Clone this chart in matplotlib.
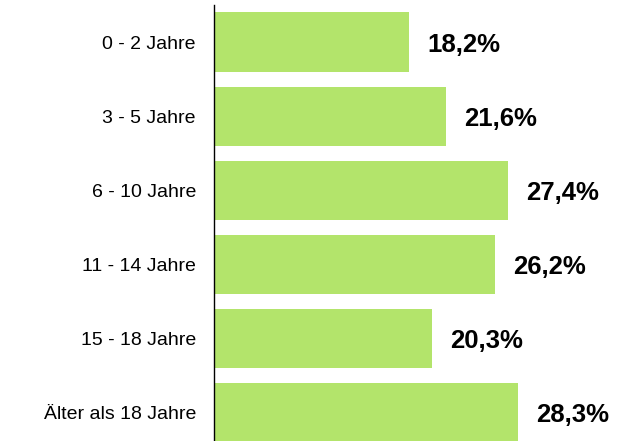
import matplotlib.pyplot as plt

plt.rcParams['font.family'] = ['Liberation Sans', 'DejaVu Sans']

# Altersgruppen und Anteile
groups = ['0 - 2 Jahre', '3 - 5 Jahre', '6 - 10 Jahre', '11 - 14 Jahre',
          '15 - 18 Jahre', 'Älter als 18 Jahre']
shares = [18.2, 21.6, 27.4, 26.2, 20.3, 28.3]
share_labels = ['18,2%', '21,6%', '27,4%', '26,2%', '20,3%', '28,3%']

fig = plt.figure(figsize=(6.17, 4.41), dpi=100)
ax = fig.add_axes([214 / 617, 0, 1 - 214 / 617, 436 / 441])

pos = list(range(len(groups)))
ax.barh(pos, shares, height=0.8, color='#b3e46b')

for p, v, lab in zip(pos, shares, share_labels):
    ax.annotate(lab, xy=(v, p), xytext=(13, -2), textcoords='offset points',
                va='center', ha='left', fontsize=18.5, fontweight='bold')

ax.set_xlim(0, 37.55)
ax.set_ylim(5.384, -0.5)
ax.set_yticks(pos)
ax.set_yticklabels(groups, fontsize=14)
ax.tick_params(axis='y', length=0, pad=13)
ax.set_xticks([])
for s in ['top', 'right', 'bottom']:
    ax.spines[s].set_visible(False)
ax.spines['left'].set_linewidth(1)

plt.savefig('out.png', dpi=100)
